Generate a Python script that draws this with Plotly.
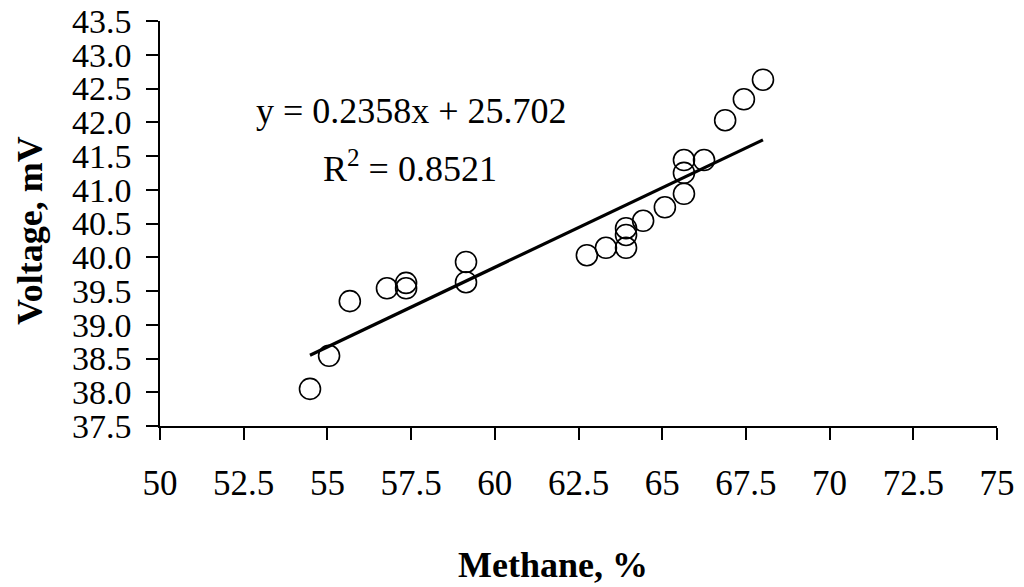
import plotly.graph_objects as go

# Data
methane = [54.48, 55.05, 55.67, 56.78, 57.35, 57.35, 59.14, 59.14,
           62.75, 63.32, 63.92, 63.92, 63.92, 64.43, 65.08, 65.65,
           65.65, 65.65, 66.25, 66.88, 67.44, 68.01]
voltage = [38.05, 38.54, 39.35, 39.54, 39.54, 39.62, 39.63, 39.93,
           40.03, 40.14, 40.14, 40.33, 40.43, 40.54, 40.74, 40.94,
           41.25, 41.44, 41.44, 42.03, 42.34, 42.63]

slope = 0.2358
intercept = 25.702
r_squared = 0.8521

x_ticks = [50, 52.5, 55, 57.5, 60, 62.5, 65, 67.5, 70, 72.5, 75]
x_ticktext = ["50", "52.5", "55", "57.5", "60", "62.5", "65", "67.5", "70", "72.5", "75"]
y_ticks = [37.5, 38.0, 38.5, 39.0, 39.5, 40.0, 40.5, 41.0, 41.5, 42.0, 42.5, 43.0, 43.5]
y_ticktext = ["37.5", "38.0", "38.5", "39.0", "39.5", "40.0", "40.5", "41.0",
              "41.5", "42.0", "42.5", "43.0", "43.5"]

x_title = "Methane, %"
y_title = "Voltage, mV"

FONT = "Liberation Serif, Times New Roman, serif"

trend_x = [min(methane), max(methane)]
trend_y = [slope * v + intercept for v in trend_x]

# page has an 8px body margin, so the figure is sized/offset accordingly
W, H = 1016, 579
L, T = 152, 13
R = W - 989
B = H - 418
pw = W - L - R
ph = H - T - B


def px(xp, yp):
    return (xp - L) / pw, 1 - (yp - T) / ph


fig = go.Figure()
fig.add_trace(go.Scatter(
    x=methane, y=voltage, mode="markers",
    marker=dict(symbol="circle-open", size=21, color="black", line=dict(width=1.6)),
    showlegend=False,
))
fig.add_trace(go.Scatter(
    x=trend_x, y=trend_y, mode="lines",
    line=dict(color="black", width=3.2),
    showlegend=False,
))

ann = []
ax_, ay_ = px(403, 103)
ann.append(dict(x=ax_, y=ay_, text=f"y = {slope}x + {intercept}",
                font=dict(family=FONT, size=36, color="black")))
ax_, ay_ = px(402, 158)
ann.append(dict(x=ax_, y=ay_, text=f"R<sup>2</sup> = {r_squared}",
                font=dict(family=FONT, size=36, color="black")))
ax_, ay_ = px(545, 557)
ann.append(dict(x=ax_, y=ay_, text=f"<b>{x_title}</b>",
                font=dict(family=FONT, size=36, color="black")))
ax_, ay_ = px(22, 223)
ann.append(dict(x=ax_, y=ay_, text=f"<b>{y_title}</b>", textangle=-90,
                font=dict(family=FONT, size=36, color="black")))
for a in ann:
    a.update(xref="paper", yref="paper", showarrow=False,
             xanchor="center", yanchor="middle")

fig.update_layout(
    width=W, height=H,
    margin=dict(l=L, r=R, t=T, b=B, autoexpand=False),
    paper_bgcolor="white", plot_bgcolor="white",
    font=dict(family=FONT, color="black", size=35),
    xaxis=dict(
        range=[50, 75], tickvals=x_ticks, ticktext=x_ticktext,
        showgrid=False, zeroline=False, automargin=False,
        showline=True, linecolor="black", linewidth=1.5,
        ticks="outside", ticklen=12, tickwidth=1.5, tickcolor="black",
        ticklabelstandoff=13, ticklabeloverflow="allow",
        tickfont=dict(family=FONT, size=35, color="black"),
    ),
    yaxis=dict(
        range=[37.5, 43.5], tickvals=y_ticks, ticktext=y_ticktext,
        showgrid=False, zeroline=False, automargin=False,
        showline=True, linecolor="black", linewidth=1.5,
        ticks="outside", ticklen=12, tickwidth=1.5, tickcolor="black",
        ticklabelstandoff=8, ticklabeloverflow="allow",
        tickfont=dict(family=FONT, size=34, color="black"),
    ),
    annotations=ann,
)

fig.write_html("out.html")
